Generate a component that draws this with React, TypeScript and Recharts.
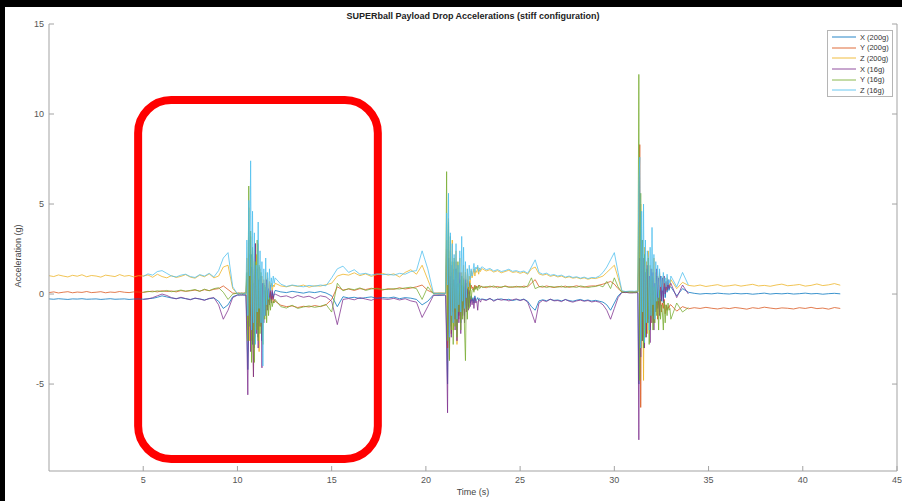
import { LineChart, Line, XAxis, YAxis, ReferenceArea } from "recharts"

const W = 902
const H = 501
const AXIS = "#a3a3a3"
const TICK_TEXT = "#555"
const FONT = "'Liberation Sans', Arial, Helvetica, sans-serif"

// sample times (s): coarse between drops, fine around each impact
const time = [
  0, 0.25, 0.5, 0.75, 1, 1.25, 1.5, 1.75, 2, 2.25,
  2.5, 2.75, 3, 3.25, 3.5, 3.75, 4, 4.25, 4.5, 4.75,
  5, 5.25, 5.5, 5.75, 6, 6.25, 6.5, 6.75, 7, 7.25,
  7.5, 7.75, 8, 8.25, 8.5, 8.75, 9, 9.25, 9.5, 9.75,
  10, 10.05, 10.1, 10.15, 10.2, 10.25, 10.3, 10.35, 10.4, 10.45,
  10.5, 10.55, 10.6, 10.65, 10.7, 10.75, 10.8, 10.85, 10.9, 10.95,
  11, 11.05, 11.1, 11.15, 11.2, 11.25, 11.3, 11.35, 11.4, 11.45,
  11.5, 11.55, 11.6, 11.65, 11.7, 11.75, 11.8, 11.85, 11.9, 11.95,
  12, 12.3, 12.6, 12.9, 13.2, 13.5, 13.8, 14.1, 14.4, 14.7,
  15, 15.3, 15.6, 15.9, 16.2, 16.5, 16.8, 17.1, 17.4, 17.7,
  18, 18.3, 18.6, 18.9, 19.2, 19.5, 19.8, 20.1, 20.4, 20.7,
  21, 21.05, 21.1, 21.15, 21.2, 21.25, 21.3, 21.35, 21.4, 21.45,
  21.5, 21.55, 21.6, 21.65, 21.7, 21.75, 21.8, 21.85, 21.9, 21.95,
  22, 22.05, 22.1, 22.15, 22.2, 22.25, 22.3, 22.35, 22.4, 22.45,
  22.5, 22.55, 22.6, 22.65, 22.7, 22.75, 22.8, 22.85, 22.9, 22.95,
  23, 23.2, 23.4, 23.6, 23.8, 24, 24.2, 24.4, 24.6, 24.8,
  25, 25.2, 25.4, 25.6, 25.8, 26, 26.2, 26.4, 26.6, 26.8,
  27, 27.2, 27.4, 27.6, 27.8, 28, 28.2, 28.4, 28.6, 28.8,
  29, 29.2, 29.4, 29.6, 29.8, 30, 30.2, 30.4, 30.6, 30.8,
  31, 31.05, 31.1, 31.15, 31.2, 31.25, 31.3, 31.35, 31.4, 31.45,
  31.5, 31.55, 31.6, 31.65, 31.7, 31.75, 31.8, 31.85, 31.9, 31.95,
  32, 32.05, 32.1, 32.15, 32.2, 32.25, 32.3, 32.35, 32.4, 32.45,
  32.5, 32.55, 32.6, 32.65, 32.7, 32.75, 32.8, 32.85, 32.9, 32.95,
  33, 33.31, 33.62, 33.93, 34.24, 34.55, 34.86, 35.17, 35.48, 35.79,
  36.1, 36.41, 36.72, 37.03, 37.34, 37.65, 37.96, 38.27, 38.58, 38.89,
  39.2, 39.51, 39.82, 40.13, 40.44, 40.75, 41.06, 41.37, 41.68, 41.99,
]

const x200 = [
  -0.27, -0.29, -0.26, -0.28, -0.30, -0.27, -0.28, -0.26, -0.29, -0.28,
  -0.27, -0.30, -0.28, -0.26, -0.29, -0.28, -0.27, -0.30, -0.28, -0.27,
  -0.29, -0.26, -0.24, -0.18, -0.10, -0.16, -0.22, -0.25, -0.21, -0.26,
  -0.30, -0.24, -0.27, -0.33, -0.26, -0.22, -0.40, -0.80, -0.60, -0.15,
  -0.05, -0.08, -0.03, -0.06, -0.04, -0.07, -0.05, -0.02, -0.06, -0.04,
  -1.50, -4.20, -2.00, 1.80, -1.20, 2.20, -2.80, 0.60, -3.00, 1.60,
  -1.80, 1.20, -2.40, 0.90, -1.60, 0.50, -2.60, 0.40, -1.20, 0.30,
  -0.90, 0.60, -0.70, 0.20, -0.50, 0.40, -0.30, 0.10, -0.20, 0.05,
  0.20, 0.12, 0.08, 0.15, 0.10, 0.05, 0.12, 0.08, 0.14, 0.06,
  -0.10, -0.70, -0.15, -0.22, -0.18, -0.25, -0.20, -0.16, -0.24, -0.19,
  -0.22, -0.17, -0.26, -0.20, -0.23, -0.30, -0.60, -0.40, -0.05, -0.08,
  -0.05, -0.08, -2.00, -5.00, 1.50, -2.20, 0.80, -1.80, 1.20, -1.00,
  0.60, -1.40, 1.00, -2.00, 0.50, -1.20, 0.80, -1.60, 0.40, -0.90,
  0.30, -1.20, 0.60, -0.80, 0.20, -0.70, 0.10, -0.50, -0.10, -0.40,
  -0.20, -0.50, -0.10, -0.40, -0.30, -0.20, -0.35, -0.25, -0.30, -0.28,
  -0.28, -0.32, -0.26, -0.35, -0.30, -0.27, -0.33, -0.29, -0.36, -0.31,
  -0.34, -0.28, -0.40, -0.70, -0.90, -0.38, -0.32, -0.37, -0.30, -0.35,
  -0.33, -0.38, -0.31, -0.36, -0.40, -0.34, -0.30, -0.37, -0.33, -0.39,
  -0.35, -0.40, -0.45, -0.60, -0.90, -0.50, -0.10, 0.10, 0.08, 0.12,
  0.10, 0.08, 0.12, 0.09, 0.11, 0.10, -5.00, 1.20, -2.60, 2.40,
  -1.80, 1.60, -2.40, 0.80, -1.60, 1.40, -1.00, 0.60, -2.00, 1.20,
  -1.20, 0.90, -1.60, 0.40, -0.80, 1.00, -0.60, 0.50, -1.00, 0.70,
  -0.40, 0.60, -0.50, 0.80, -0.20, 0.50, 0.10, 0.60, 0.20, 0.40,
  0.40, -0.10, 0.30, 0.10, 0.04, 0.00, 0.03, 0.01, 0.05, 0.02,
  0.00, 0.04, 0.01, 0.03, -0.01, 0.02, 0.05, 0.00, 0.03, 0.01,
  0.04, 0.00, 0.02, 0.05, 0.01, 0.03, -0.01, 0.02, 0.04, 0.01,
]

const y200 = [
  0.08, 0.12, 0.06, 0.10, 0.13, 0.07, 0.11, 0.09, 0.14, 0.08,
  0.10, 0.13, 0.07, 0.11, 0.09, 0.14, 0.10, 0.08, 0.12, 0.11,
  0.09, 0.13, 0.16, 0.12, 0.18, 0.14, 0.17, 0.12, 0.19, 0.15,
  0.18, 0.22, 0.16, 0.24, 0.19, 0.26, 0.30, 0.45, 0.25, 0.05,
  0.04, 0.07, 0.02, 0.05, 0.03, 0.06, 0.04, 0.08, 0.03, 0.05,
  0.80, -2.00, 3.00, -1.50, 2.20, -2.60, 1.40, -0.80, 2.00, 2.80,
  -1.60, 1.20, -2.00, 1.50, -1.00, 0.80, -1.60, 0.60, -0.90, 0.50,
  -0.70, 0.30, -0.60, 0.20, -0.50, 0.10, -0.40, -0.10, -0.50, -0.30,
  -0.40, -0.62, -0.70, -0.66, -0.75, -0.68, -0.72, -0.64, -0.70, -0.60,
  -0.30, 0.40, 0.22, 0.28, 0.20, 0.30, 0.25, 0.32, 0.27, 0.22,
  0.30, 0.26, 0.35, 0.28, 0.33, 0.40, 0.50, 0.20, 0.06, 0.04,
  0.05, 0.03, 2.50, -3.00, 3.00, -1.50, 2.00, -2.20, 1.00, -0.80,
  1.40, -1.00, 1.80, -0.60, 1.20, -1.40, 0.80, -0.40, 1.00, -0.60,
  0.90, -0.80, 1.20, -0.30, 0.80, 0.00, 0.70, 0.20, 0.50, 0.30,
  0.40, 0.20, 0.50, 0.30, 0.45, 0.35, 0.40, 0.50, 0.38, 0.42,
  0.40, 0.35, 0.44, 0.38, 0.42, 0.36, 0.45, 0.40, 0.37, 0.43,
  0.38, 0.44, 0.40, 0.60, 0.80, 0.42, 0.38, 0.45, 0.40, 0.36,
  0.42, 0.39, 0.44, 0.37, 0.41, 0.46, 0.40, 0.38, 0.43, 0.45,
  0.45, 0.50, 0.55, 0.62, 0.70, 0.55, 0.30, 0.12, 0.10, 0.12,
  0.12, 0.10, 0.14, 0.11, 0.13, 0.12, 2.00, 8.30, -6.30, 3.00,
  -2.40, 2.00, -1.60, 1.20, -2.20, 0.80, -1.40, 0.40, -1.80, 0.60,
  -1.20, 0.20, -1.60, 0.00, -0.90, -0.20, -1.40, -0.40, -0.80, -0.30,
  -1.00, -0.50, -0.80, -0.30, -1.10, -0.60, -0.90, -0.70, -0.80, -0.60,
  -0.60, -0.95, -0.70, -0.82, -0.76, -0.80, -0.74, -0.79, -0.83, -0.77,
  -0.81, -0.75, -0.79, -0.84, -0.76, -0.80, -0.73, -0.78, -0.82, -0.77,
  -0.79, -0.83, -0.76, -0.80, -0.74, -0.81, -0.78, -0.84, -0.75, -0.80,
]

const z200 = [
  1.02, 0.97, 1.06, 1.00, 0.95, 1.04, 0.99, 1.07, 0.96, 1.03,
  1.00, 0.94, 1.05, 1.01, 0.97, 1.08, 0.99, 1.03, 0.95, 1.02,
  1.00, 1.06, 0.93, 1.10, 0.97, 0.90, 1.02, 0.92, 0.98, 1.08,
  0.94, 0.88, 1.05, 0.96, 1.12, 0.90, 1.00, 1.50, 1.60, 0.30,
  0.02, -0.01, 0.04, 0.00, 0.03, -0.02, 0.01, 0.05, 0.00, 0.02,
  2.00, -1.50, 4.80, -2.60, 3.20, -1.20, 2.40, -4.60, 1.80, -2.40,
  2.20, -1.60, 2.80, -3.20, 1.40, -1.80, 1.00, -1.40, 0.80, -0.60,
  1.20, -0.40, 0.90, -0.20, 0.70, 0.10, 0.60, 0.20, 0.50, 0.40,
  0.60, 0.45, 0.40, 0.48, 0.42, 0.50, 0.38, 0.46, 0.44, 0.52,
  0.60, 1.00, 1.10, 1.05, 1.18, 1.02, 1.12, 0.98, 1.08, 1.15,
  1.05, 1.12, 0.95, 1.20, 1.35, 1.10, 1.60, 0.80, 0.02, 0.00,
  0.02, 0.00, 3.00, -2.00, 4.20, -3.60, 2.40, -1.60, 3.00, -2.00,
  1.80, -1.20, 2.40, -2.80, 1.60, -0.80, 2.00, -1.40, 1.20, -0.60,
  1.60, -1.00, 1.20, -0.40, 1.40, 0.20, 1.00, 0.60, 1.30, 0.90,
  1.10, 1.40, 1.00, 1.30, 1.20, 1.50, 1.10, 1.35, 1.25, 1.40,
  1.40, 1.28, 1.35, 1.22, 1.30, 1.18, 1.25, 1.32, 1.20, 1.24,
  1.15, 1.22, 1.10, 1.40, 1.50, 1.12, 1.05, 1.10, 0.98, 1.04,
  0.95, 1.00, 0.90, 0.96, 0.88, 0.92, 0.85, 0.90, 0.82, 0.88,
  0.86, 0.92, 1.00, 1.20, 1.40, 1.60, 0.90, 0.15, 0.12, 0.14,
  0.14, 0.12, 0.15, 0.13, 0.16, 0.14, 4.00, -2.00, 5.00, -3.00,
  2.00, -4.80, 2.60, -1.40, 1.80, -2.20, 2.40, -1.00, 1.60, -1.60,
  1.40, -0.60, 2.00, -0.80, 1.20, -0.40, 1.00, 0.00, 1.20, 0.20,
  0.80, 0.30, 1.00, 0.40, 0.70, 0.20, 0.90, 0.50, 0.60, 0.40,
  0.80, 0.30, 0.65, 0.48, 0.44, 0.50, 0.42, 0.47, 0.52, 0.43,
  0.46, 0.51, 0.44, 0.49, 0.54, 0.45, 0.48, 0.43, 0.50, 0.55,
  0.46, 0.49, 0.53, 0.44, 0.48, 0.56, 0.47, 0.51, 0.58, 0.49,
]

// 16g sensor only logged from ~5 s to ~34 s
const x16 = [
  null, null, null, null, null, null, null, null, null, null,
  null, null, null, null, null, null, null, null, null, null,
  -0.30, -0.27, -0.20, -0.10, 0.00, -0.08, -0.20, -0.27, -0.18, -0.25,
  -0.32, -0.22, -0.28, -0.35, -0.24, -0.20, -0.60, -1.40, -0.90, -0.20,
  -0.06, -0.03, -0.08, -0.04, -0.07, -0.02, -0.05, -0.09, -0.04, -0.06,
  -2.50, -5.60, -1.00, 2.20, -3.20, 1.50, -2.00, -4.60, 0.80, 2.80,
  -2.20, 1.40, -3.00, 0.80, -1.80, 1.00, -4.10, 0.60, -1.60, 0.20,
  -1.20, 0.80, -0.90, 0.30, -0.60, 0.50, -0.50, 0.20, -0.30, 0.00,
  0.00, -0.15, -0.10, -0.22, -0.08, -0.18, -0.12, -0.25, -0.10, -0.16,
  -0.40, -1.70, -0.30, -0.25, -0.32, -0.20, -0.28, -0.35, -0.22, -0.27,
  -0.30, -0.24, -0.33, -0.26, -0.38, -0.45, -1.30, -0.70, -0.08, -0.05,
  -0.06, -0.10, -3.00, -6.60, 2.00, -3.00, 1.00, -2.40, 1.60, -1.60,
  0.80, -2.00, 1.40, -2.60, 0.60, -1.60, 1.20, -2.20, 0.50, -1.20,
  0.40, -1.60, 0.80, -1.00, 0.30, -0.90, 0.20, -0.70, -0.20, -0.60,
  -0.30, -0.80, -0.20, -0.50, -0.40, -0.90, -0.30, -0.35, -0.45, -0.30,
  -0.30, -0.36, -0.24, -0.40, -0.28, -0.34, -0.30, -0.38, -0.32, -0.27,
  -0.36, -0.30, -0.45, -1.00, -1.60, -0.50, -0.35, -0.42, -0.28, -0.38,
  -0.36, -0.42, -0.30, -0.40, -0.45, -0.38, -0.34, -0.40, -0.36, -0.44,
  -0.40, -0.45, -0.60, -0.90, -1.40, -0.80, -0.20, 0.08, 0.10, 0.06,
  0.06, 0.08, 0.05, 0.09, 0.07, 0.06, -8.10, 2.00, -3.50, 3.00,
  -2.60, 2.00, -3.00, 1.20, -2.40, 1.60, -1.60, 1.00, -2.70, 1.40,
  -1.60, 1.20, -2.00, 0.60, -1.00, 1.40, -0.80, 0.90, -1.20, 1.00,
  -0.30, 0.90, -0.40, 1.00, 0.00, 0.70, 0.20, 0.80, 0.30, 0.50,
  0.60, -0.20, 0.50, 0.00, null, null, null, null, null, null,
  null, null, null, null, null, null, null, null, null, null,
  null, null, null, null, null, null, null, null, null, null,
]

const y16 = [
  null, null, null, null, null, null, null, null, null, null,
  null, null, null, null, null, null, null, null, null, null,
  0.10, 0.15, 0.12, 0.18, 0.14, 0.20, 0.13, 0.17, 0.22, 0.16,
  0.20, 0.25, 0.15, 0.27, 0.18, 0.30, 0.35, 0.10, -0.30, 0.00,
  0.05, 0.02, 0.06, 0.03, 0.07, 0.04, 0.01, 0.05, 0.06, 0.03,
  1.20, -2.60, 6.00, -1.80, 3.50, -3.80, 2.60, -1.40, -3.80, 1.80,
  -2.00, 3.00, -2.60, 1.60, -2.20, 1.20, -1.80, -2.80, 0.60, -1.40,
  0.40, -1.60, 0.20, -1.20, -0.20, -0.90, -0.30, -0.70, -0.40, -0.50,
  -0.30, -0.70, -0.78, -0.62, -0.80, -0.72, -0.66, -0.74, -0.68, -0.58,
  -1.00, 0.60, 0.18, 0.30, 0.24, 0.34, 0.20, 0.28, 0.32, 0.26,
  0.25, 0.30, 0.28, 0.34, 0.38, 0.30, -0.30, 0.40, 0.02, 0.06,
  0.04, 0.06, 6.80, -2.60, 4.00, -3.70, 3.20, -2.00, 1.80, -2.80,
  2.00, -1.80, 1.40, -2.40, 1.80, -1.00, 0.60, -2.00, 1.00, -1.40,
  0.80, -2.00, -3.70, 0.60, -1.40, 0.40, -0.80, 0.60, -0.30, 0.20,
  0.30, 0.10, 0.45, 0.25, 0.40, 0.20, 0.50, 0.30, 0.35, 0.45,
  0.36, 0.42, 0.38, 0.45, 0.34, 0.40, 0.43, 0.37, 0.41, 0.38,
  0.42, 0.36, 0.45, 0.90, 0.30, 0.40, 0.44, 0.36, 0.42, 0.39,
  0.38, 0.44, 0.36, 0.42, 0.40, 0.37, 0.45, 0.41, 0.36, 0.40,
  0.42, 0.48, 0.40, 0.70, 0.30, 0.90, 0.40, 0.10, 0.14, 0.10,
  0.10, 0.12, 0.09, 0.11, 0.10, 0.13, 12.20, -4.80, 5.60, -2.60,
  3.00, -3.00, 2.20, -2.40, 1.40, -1.60, 2.00, -2.80, 0.80, -1.20,
  1.00, -2.00, 0.40, -1.60, 0.60, -1.20, -0.20, -2.00, 0.20, -1.40,
  -0.60, -1.00, -2.00, -0.40, -1.60, -0.60, -1.20, -0.50, -0.90, -0.80,
  -1.40, -0.50, -1.00, -0.75, null, null, null, null, null, null,
  null, null, null, null, null, null, null, null, null, null,
  null, null, null, null, null, null, null, null, null, null,
]

const z16 = [
  null, null, null, null, null, null, null, null, null, null,
  null, null, null, null, null, null, null, null, null, null,
  0.98, 1.12, 1.05, 1.25, 1.30, 1.15, 1.00, 0.95, 1.05, 1.10,
  0.97, 0.92, 1.08, 1.00, 1.15, 0.95, 1.30, 2.00, 2.30, 0.40,
  0.01, 0.04, -0.02, 0.03, 0.00, 0.05, 0.02, -0.01, 0.03, 0.01,
  3.00, -1.20, 5.20, 1.00, 7.40, -2.00, 4.60, -1.60, 3.40, -2.80,
  1.60, -1.00, 4.00, -0.80, 2.40, -1.60, 1.80, -4.00, 1.40, -1.20,
  2.00, -0.60, 1.20, -0.30, 1.40, 0.20, 0.90, 0.40, 1.00, 0.60,
  0.90, 0.55, 0.42, 0.50, 0.45, 0.40, 0.48, 0.43, 0.50, 0.46,
  0.90, 1.40, 1.55, 1.20, 1.35, 1.10, 1.15, 1.05, 1.12, 1.08,
  1.10, 1.05, 1.15, 1.10, 1.25, 1.30, 2.40, 1.40, 0.05, 0.02,
  0.03, 0.01, 4.50, 0.50, 5.60, -2.40, 3.40, -1.20, 2.80, -1.60,
  2.20, -0.80, 2.80, -1.40, 1.60, -0.60, 2.40, -1.00, 3.20, -0.40,
  2.60, -0.80, 1.80, -0.20, 1.40, 0.40, 1.60, 0.80, 1.40, 1.00,
  1.30, 1.70, 1.20, 1.50, 1.40, 1.60, 1.25, 1.45, 1.35, 1.50,
  1.50, 1.35, 1.42, 1.28, 1.36, 1.25, 1.30, 1.38, 1.26, 1.30,
  1.22, 1.28, 1.15, 1.50, 1.90, 1.20, 1.10, 1.16, 1.04, 1.08,
  1.00, 1.05, 0.94, 1.00, 0.92, 0.96, 0.88, 0.94, 0.86, 0.92,
  0.90, 1.00, 1.20, 1.50, 1.90, 2.30, 1.20, 0.18, 0.14, 0.16,
  0.16, 0.14, 0.17, 0.15, 0.18, 0.16, 6.00, 7.60, -3.00, 4.60,
  -1.00, 5.00, -2.70, 3.00, -1.60, 2.40, 2.00, -2.00, 2.60, -1.20,
  3.70, -0.60, 2.20, -1.40, 1.80, -0.40, 1.60, -0.20, 1.40, 0.40,
  1.00, 0.20, 1.20, 0.60, 0.90, 0.40, 1.10, 0.50, 0.80, 0.60,
  1.00, 0.40, 1.20, 0.50, null, null, null, null, null, null,
  null, null, null, null, null, null, null, null, null, null,
  null, null, null, null, null, null, null, null, null, null,
]

const xTicks = [5, 10, 15, 20, 25, 30, 35, 40, 45]
const yTicks = [-5, 0, 5, 10, 15]

const series = [
  { key: "x200", name: "X (200g)", color: "#0072BD" },
  { key: "y200", name: "Y (200g)", color: "#D95319" },
  { key: "z200", name: "Z (200g)", color: "#EDB120" },
  { key: "x16", name: "X (16g)", color: "#7E2F8E" },
  { key: "y16", name: "Y (16g)", color: "#77AC30" },
  { key: "z16", name: "Z (16g)", color: "#4DBEEE" },
]

const data = time.map((t, i) => ({
  t,
  x200: x200[i],
  y200: y200[i],
  z200: z200[i],
  x16: x16[i],
  y16: y16[i],
  z16: z16[i],
}))

// matlab style ticks point into the plot box
const BottomTick = (p: any) => (
  <g>
    <line x1={p.x} x2={p.x} y1={p.y} y2={p.y - 5} stroke={AXIS} />
    <text x={p.x} y={p.y + 12} textAnchor="middle" fontSize={9} fill={TICK_TEXT} fontFamily={FONT}>
      {p.payload.value}
    </text>
  </g>
)
const TopTick = (p: any) => <line x1={p.x} x2={p.x} y1={p.y} y2={p.y + 5} stroke={AXIS} />
const LeftTick = (p: any) => (
  <g>
    <line x1={p.x} x2={p.x + 5} y1={p.y} y2={p.y} stroke={AXIS} />
    <text x={p.x - 5} y={p.y + 3} textAnchor="end" fontSize={9} fill={TICK_TEXT} fontFamily={FONT}>
      {p.payload.value}
    </text>
  </g>
)
const RightTick = (p: any) => <line x1={p.x} x2={p.x - 5} y1={p.y} y2={p.y} stroke={AXIS} />

const RoundedBox = (p: any) => (
  <rect x={p.x} y={p.y} width={p.width} height={p.height} rx={33} ry={33} fill="none" stroke="#ff0000" strokeWidth={8} />
)

export default function App() {
  return (
    <div style={{ position: "absolute", left: 0, top: 0, width: W, height: H, background: "#000", fontFamily: FONT }}>
      <div style={{ position: "absolute", left: 5, top: 7, right: 0, bottom: 0, background: "#fff" }} />
      <div style={{ position: "absolute", left: 0, top: 0 }}>
        <LineChart width={W} height={H} data={data} margin={{ top: 24, right: 0, bottom: 0, left: 0 }}>
          <XAxis
            dataKey="t"
            type="number"
            domain={[0, 45]}
            ticks={xTicks}
            interval={0}
            height={30}
            tickSize={0}
            tickMargin={0}
            tickLine={false}
            axisLine={{ stroke: AXIS }}
            tick={BottomTick}
          />
          <XAxis
            xAxisId="top"
            orientation="top"
            dataKey="t"
            type="number"
            domain={[0, 45]}
            ticks={xTicks}
            interval={0}
            height={0}
            tickSize={0}
            tickMargin={0}
            tickLine={false}
            axisLine={{ stroke: AXIS }}
            tick={TopTick}
          />
          <YAxis
            type="number"
            domain={[-9.83, 15]}
            ticks={yTicks}
            interval={0}
            allowDataOverflow
            width={49}
            tickSize={0}
            tickMargin={0}
            tickLine={false}
            axisLine={{ stroke: AXIS }}
            tick={LeftTick}
          />
          <YAxis
            yAxisId="right"
            orientation="right"
            type="number"
            domain={[-9.83, 15]}
            ticks={yTicks}
            interval={0}
            allowDataOverflow
            width={5}
            tickSize={0}
            tickMargin={0}
            tickLine={false}
            axisLine={{ stroke: AXIS }}
            tick={RightTick}
          />
          {series.map((s) => (
            <Line
              key={s.key}
              dataKey={s.key}
              name={s.name}
              stroke={s.color}
              strokeWidth={0.9}
              strokeOpacity={0.85}
              dot={false}
              activeDot={false}
              type="linear"
              isAnimationActive={false}
            />
          ))}
          <ReferenceArea x1={4.73} x2={17.45} y1={-9.17} y2={10.78} ifOverflow="visible" shape={RoundedBox} />
        </LineChart>
      </div>

      <div
        style={{
          position: "absolute",
          left: 49,
          width: 848,
          top: 10,
          lineHeight: "12px",
          textAlign: "center",
          fontSize: 9,
          fontWeight: "bold",
          color: "#222",
        }}
      >
        SUPERball Payload Drop Accelerations (stiff configuration)
      </div>
      <div
        style={{
          position: "absolute",
          left: 49,
          width: 848,
          top: 486,
          lineHeight: "12px",
          textAlign: "center",
          fontSize: 9,
          color: "#444",
        }}
      >
        Time (s)
      </div>
      <div
        style={{
          position: "absolute",
          left: 18,
          top: 256,
          transform: "translate(-50%, -50%) rotate(-90deg)",
          whiteSpace: "nowrap",
          fontSize: 9,
          color: "#444",
        }}
      >
        Acceleration (g)
      </div>

      <div
        style={{
          position: "absolute",
          left: 827,
          top: 30,
          width: 66,
          height: 67,
          border: "1px solid #b5b5b5",
          background: "#fff",
          boxSizing: "border-box",
          paddingTop: 1,
        }}
      >
        {series.map((s) => (
          <div key={s.key} style={{ display: "flex", alignItems: "center", height: 10.6 }}>
            <svg width={28} height={4} style={{ display: "block", marginLeft: 4 }}>
              <line x1={0} x2={24} y1={2} y2={2} stroke={s.color} strokeWidth={1} strokeOpacity={0.85} />
            </svg>
            <span style={{ fontSize: 7.5, color: "#333", whiteSpace: "nowrap" }}>{s.name}</span>
          </div>
        ))}
      </div>
    </div>
  )
}
